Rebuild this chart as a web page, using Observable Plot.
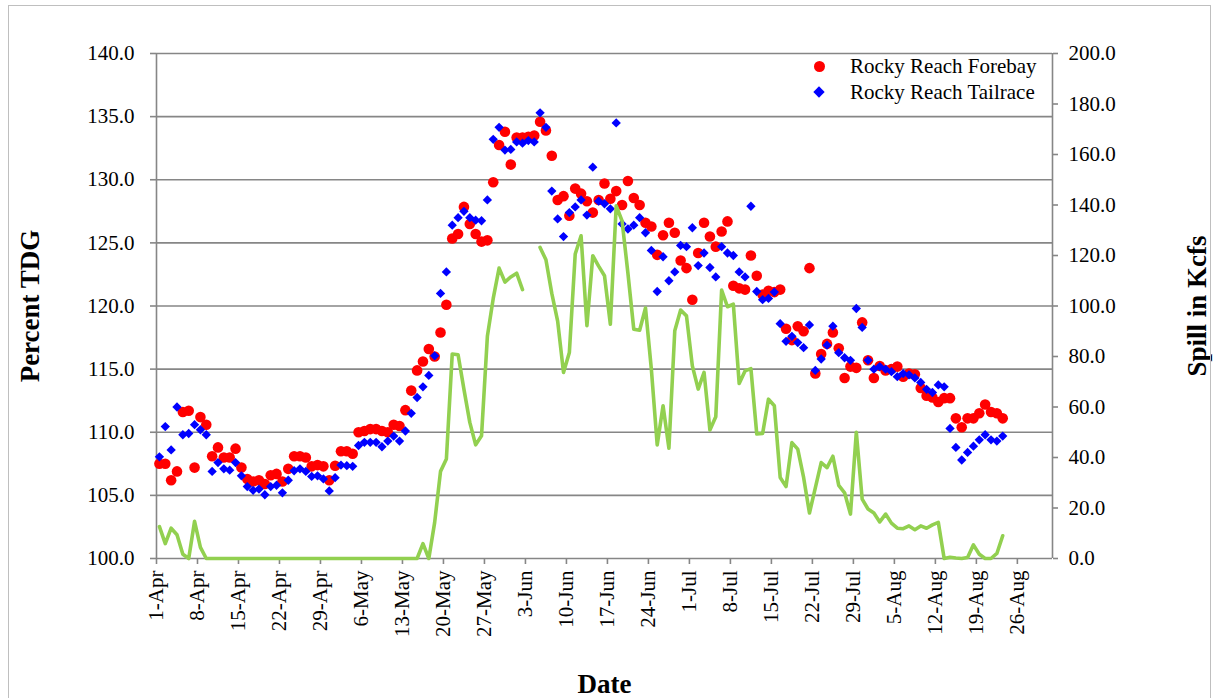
<!DOCTYPE html>
<html>
<head>
<meta charset="utf-8">
<script src="https://cdn.jsdelivr.net/npm/d3@7"></script>
<script src="https://cdn.jsdelivr.net/npm/@observablehq/plot@0.6"></script>
<style>
  html, body { margin: 0; padding: 0; background: #fff; }
  #wrap { position: relative; width: 1214px; height: 698px; }
  #wrap svg g[aria-label$="axis label"] text { font-weight: bold; font-size: 27px; }
  #legend { position: absolute; left: 804px; top: 53px; font-family: "Liberation Serif", serif; font-size: 21px; color: #000; line-height: 26px; }
  #legend .row { display: flex; align-items: center; white-space: nowrap; }
  #legend .sw { width: 30px; display: inline-flex; justify-content: center; margin-right: 16px; }
  #legend .c { width: 11px; height: 11px; border-radius: 50%; background: #ff0000; }
  #legend .d { width: 8px; height: 8px; background: #0000ff; transform: rotate(45deg); }
  #frame { position: absolute; left: 8px; top: 5px; width: 1203px; height: 700px; border: 1px solid #bfbfbf; box-sizing: border-box; pointer-events: none; }
</style>
</head>
<body>
<div id="wrap">
  <div id="frame"></div>
  <div id="legend">
    <div class="row"><span class="sw"><span class="c"></span></span>Rocky Reach Forebay</div>
    <div class="row"><span class="sw"><span class="d"></span></span>Rocky Reach Tailrace</div>
  </div>
</div>
<script>
// ---- data (daily, starting 1-Apr) ----
const year = 2011;
const firstDay = "1-Apr";
const lastAxisDay = "1-Sep";

const forebay = [
  107.5, 107.5, 106.2, 106.9, 111.6, 111.7, 107.2, 111.2, 110.6, 108.1,
  108.8, 108.0, 108.0, 108.7, 107.2, 106.3, 106.1, 106.2, 105.9, 106.6,
  106.7, 106.1, 107.1, 108.1, 108.1, 108.0, 107.3, 107.4, 107.3, 106.2,
  107.35, 108.5, 108.5, 108.3, 110.0, 110.1, 110.25, 110.25, 110.1, 110.0,
  110.6, 110.5, 111.75, 113.3, 114.9, 115.6, 116.6, 116.0, 117.9, 120.1,
  125.35, 125.7, 127.85, 126.5, 125.7, 125.1, 125.2, 129.8, 132.75, 133.8,
  131.2, 133.35, 133.35, 133.4, 133.5, 134.6, 133.9, 131.9, 128.4, 128.7,
  127.15, 129.3, 128.9, 128.3, 127.4, 128.4, 129.7, 128.5, 129.1, 128.0,
  129.9, 128.55, 128.0, 126.6, 126.3, 124.05, 125.6, 126.6, 125.8, 123.6,
  123.0, 120.5, 124.2, 126.6, 125.5, 124.7, 125.9, 126.7, 121.6, 121.4,
  121.3, 124.0, 122.4, 120.9, 121.2, 121.1, 121.3, 118.2, 117.3, 118.4,
  118.0, 123.0, 114.65, 116.2, 117.0, 117.9, 116.65, 114.3, 115.2, 115.1,
  118.7, 115.7, 114.3, 115.25, 114.9, 115.0, 115.2, 114.4, 114.65, 114.6,
  113.5, 112.9, 112.75, 112.4, 112.7, 112.7, 111.1, 110.4, 111.1, 111.1,
  111.5, 112.2, 111.6, 111.5, 111.1
];

const tailrace = [
  108.05, 110.45, 108.6, 112.0, 109.8, 109.9, 110.6, 110.2, 109.8, 106.9,
  107.6, 107.1, 107.0, 107.6, 106.55, 105.7, 105.4, 105.5, 105.05, 105.7,
  105.8, 105.2, 106.2, 106.95, 107.1, 106.9, 106.5, 106.55, 106.3, 105.35,
  106.4, 107.4, 107.35, 107.3, 108.95, 109.2, 109.2, 109.2, 108.85, 109.3,
  109.7, 109.3, 110.1, 111.5, 112.75, 113.6, 114.5, 116.05, 121.0, 122.7,
  126.4, 127.0, 127.5, 127.0, 126.8, 126.75, 128.4, 133.2, 134.15, 132.35,
  132.4, 133.0, 132.9, 133.1, 133.0, 135.3, 134.15, 129.1, 126.9, 125.5,
  127.4, 127.85, 128.4, 127.2, 131.0, 128.3, 128.1, 127.7, 134.5, 126.5,
  126.1, 126.4, 127.0, 125.8, 124.4, 121.15, 123.9, 122.0, 122.7, 124.8,
  124.7, 126.2, 123.2, 124.2, 123.05, 122.3, 124.7, 124.2, 124.0, 122.7,
  122.3, 127.9, 121.15, 120.5, 120.6, 121.1, 118.6, 117.2, 117.6, 117.1,
  116.7, 118.5, 114.9, 115.8, 116.9, 118.4, 116.3, 115.9, 115.7, 119.8,
  118.3, 115.7, 115.0, 115.2, 115.0, 114.8, 114.4, 114.65, 114.55, 114.3,
  113.95, 113.4, 113.15, 113.75, 113.6, 110.3, 108.8, 107.8, 108.4, 108.9,
  109.4, 109.8, 109.4, 109.3, 109.7
];

// Spill in Kcfs (null = no data)
const spill = [
  12.6, 5.9, 12.0, 9.4, 1.7, 0, 14.7, 4.4, 0, 0,
  0, 0, 0, 0, 0, 0, 0, 0, 0, 0,
  0, 0, 0, 0, 0, 0, 0, 0, 0, 0,
  0, 0, 0, 0, 0, 0, 0, 0, 0, 0,
  0, 0, 0, 0, 0, 5.9, 0, 14.3, 34.5, 39.4,
  81.0, 80.7, 67, 53.9, 45.0, 48.6, 88, 103, 115, 109.5,
  111.5, 113, 106.5, null, null, 123.2, 118.3, 105, 94, 73.7,
  81.6, 120.6, 127.8, 92.2, 119.9, 115.8, 112, 92.8, 139.7, 133.7,
  113, 90.8, 90.4, 99.2, 75, 45, 60.5, 43.7, 90.2, 98.4,
  96.1, 76.3, 67.1, 73.7, 50.9, 56.1, 106.3, 99.7, 100.7, 69.3,
  74.3, 75.2, 49.3, 49.5, 63.1, 60.5, 32.1, 28.5, 45.9, 43.3,
  32.1, 18, 28, 38, 36, 40.5, 29, 26, 17.6, 50,
  23.5, 19.6, 18, 14.5, 17.6, 14, 12, 11.8, 12.9, 11.4,
  12.9, 12, 13.3, 14.3, 0, 0.5, 0.2, 0, 0.4, 5.4,
  1.7, 0, 0, 2, 9.0
];

const dateTickLabels = ["1-Apr","8-Apr","15-Apr","22-Apr","29-Apr","6-May","13-May","20-May","27-May","3-Jun","10-Jun","17-Jun","24-Jun","1-Jul","8-Jul","15-Jul","22-Jul","29-Jul","5-Aug","12-Aug","19-Aug","26-Aug"];
const tdgTicks = [100, 105, 110, 115, 120, 125, 130, 135, 140];
const spillTicks = [0, 20, 40, 60, 80, 100, 120, 140, 160, 180, 200];
const seriesNames = ["Rocky Reach Forebay", "Rocky Reach Tailrace"];

// ---- build ----
const parse = d3.utcParse("%d-%b-%Y");
const fmt = d3.utcFormat("%-d-%b");
const start = parse(firstDay + "-" + year);
const end = parse(lastAxisDay + "-" + year);
const dayAt = i => d3.utcHour.offset(d3.utcDay.offset(start, i), 12); // centered in the day
const tickDates = dateTickLabels.map(s => parse(s + "-" + year));

const spillToY = s => 100 + s * (40 / 200);
const yToSpill = y => (y - 100) * (200 / 40);

const fore = forebay.map((v, i) => ({date: dayAt(i), v, series: seriesNames[0]}));
const tail = tailrace.map((v, i) => ({date: dayAt(i), v, series: seriesNames[1]}));
const sp = spill.map((v, i) => ({date: dayAt(i), v: v == null ? null : spillToY(v)}));

const gray = "#868686";

const chart = Plot.plot({
  width: 1214,
  height: 698,
  marginLeft: 156,
  marginRight: 162,
  marginTop: 53,
  marginBottom: 140,
  style: {fontFamily: "Liberation Serif, serif", fontSize: "21px", color: "#000", background: "transparent", overflow: "visible"},
  x: {type: "utc", domain: [start, end]},
  y: {domain: [100, 140]},
  marks: [
    Plot.ruleY(tdgTicks, {stroke: gray, strokeWidth: 1.6}),
    Plot.ruleX([start, end], {stroke: gray, strokeWidth: 1.6}),
    Plot.axisY(tdgTicks, {
      anchor: "left", tickSize: 6, tickPadding: 16, stroke: gray, strokeWidth: 1.6, fill: "#000",
      tickFormat: d => d.toFixed(1),
      label: "Percent TDG", labelAnchor: "center", labelOffset: 137, labelArrow: "none"
    }),
    Plot.axisY(spillTicks.map(spillToY), {
      anchor: "right", tickSize: 5, tickPadding: 11, stroke: gray, strokeWidth: 1.6, fill: "#000",
      tickFormat: d => yToSpill(d).toFixed(1),
      label: "Spill in Kcfs", labelAnchor: "center", labelOffset: 153, labelArrow: "none"
    }),
    Plot.axisX(tickDates, {
      anchor: "bottom", tickSize: 6, tickPadding: 6, stroke: gray, strokeWidth: 1.6, fill: "#000",
      tickRotate: -90, tickFormat: fmt,
      label: "Date", labelAnchor: "center", labelOffset: 134, labelArrow: "none"
    }),
    Plot.dot(fore, {x: "date", y: "v", r: 5.3, fill: "#ff0000", stroke: null}),
    Plot.dot(tail, {x: "date", y: "v", r: 4.2, symbol: "diamond2", fill: "#0000ff", stroke: null}),
    Plot.line(sp, {x: "date", y: "v", stroke: "#92d050", strokeWidth: 3.6, strokeLinejoin: "round", curve: "linear"})
  ]
});

document.getElementById("wrap").prepend(chart);
</script>
</body>
</html>
